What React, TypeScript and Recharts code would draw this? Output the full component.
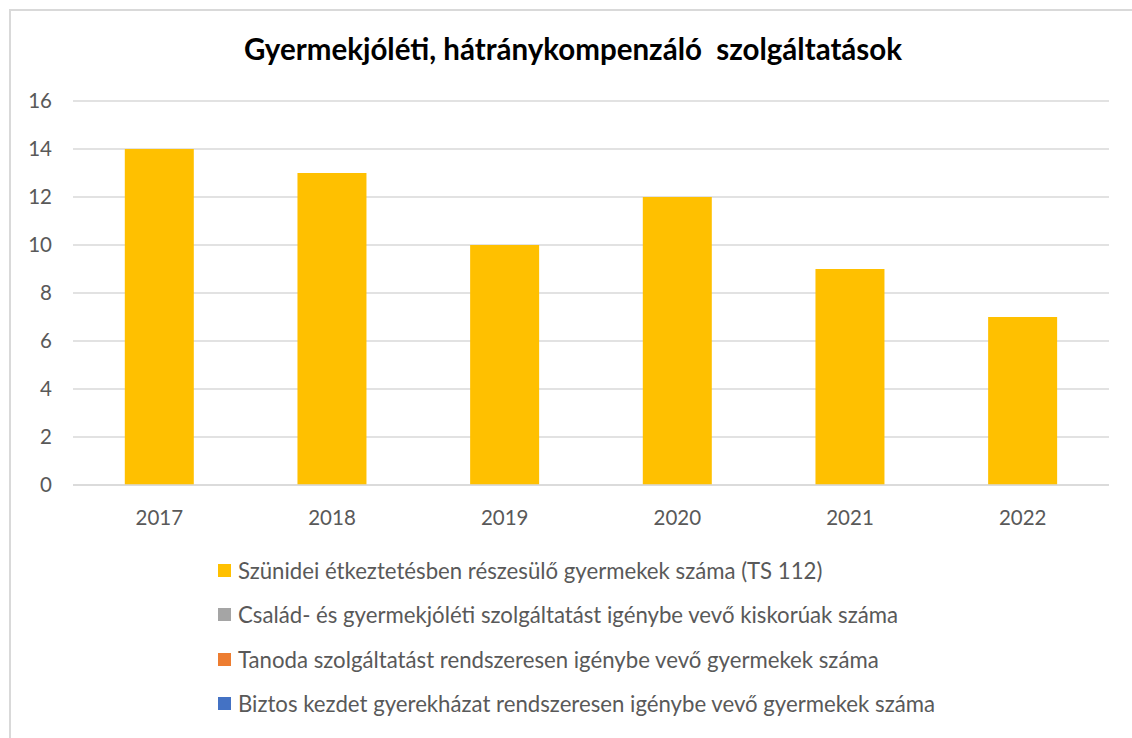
import React from "react"
import { BarChart, Bar, XAxis, YAxis, CartesianGrid } from "recharts"

// ── Data ──────────────────────────────────────────────────────────────────────
const years = ["2017", "2018", "2019", "2020", "2021", "2022"]
const szunidei = [14, 13, 10, 12, 9, 7]
const csaladSegito: (number | null)[] = [null, null, null, null, null, null]
const tanoda: (number | null)[] = [null, null, null, null, null, null]
const biztosKezdet: (number | null)[] = [null, null, null, null, null, null]
const yTicks = [0, 2, 4, 6, 8, 10, 12, 14, 16]

const seriesNames = [
  "Szünidei étkeztetésben részesülő gyermekek száma (TS 112)",
  "Család- és gyermekjóléti szolgáltatást igénybe vevő kiskorúak száma",
  "Tanoda szolgáltatást rendszeresen igénybe vevő gyermekek száma",
  "Biztos kezdet gyerekházat rendszeresen igénybe vevő gyermekek száma"
]
const seriesColors = ["#FFC000", "#A5A5A5", "#ED7D31", "#4472C4"]

const TEXT = "#595959"
const FONT = "Lato, 'Open Sans', sans-serif"

const rows = years.map((year, i) => ({
  year,
  s0: szunidei[i],
  s1: csaladSegito[i],
  s2: tanoda[i],
  s3: biztosKezdet[i]
}))

const tick = { fill: TEXT, fontSize: 20.5, fontFamily: FONT }

export default function App() {
  return (
    <div
      style={{
        position: "absolute",
        left: 0,
        top: 0,
        width: 1132,
        height: 738,
        overflow: "hidden",
        background: "#fff",
        fontFamily: FONT
      }}
    >
      {/* chart frame */}
      <div
        style={{
          position: "absolute",
          left: 9,
          top: 9,
          width: 1140,
          height: 740,
          border: "2px solid #D9D9D9",
          boxSizing: "border-box"
        }}
      />
      <div
        style={{
          position: "absolute",
          left: 0,
          width: 1146,
          top: 31,
          textAlign: "center",
          fontSize: 29.5,
          lineHeight: "36px",
          fontWeight: 700,
          color: "#000"
        }}
      >
        Gyermekjóléti, hátránykompenzáló&nbsp; szolgáltatások
      </div>

      <div style={{ position: "absolute", left: 0, top: 0 }}>
        <BarChart
          width={1132}
          height={560}
          data={rows}
          margin={{ top: 101, right: 23, left: 13, bottom: 25 }}
          barCategoryGap="30%"
        >
          <CartesianGrid vertical={false} stroke="#D9D9D9" strokeWidth={1.5} />
          <XAxis
            dataKey="year"
            axisLine={{ stroke: "#D9D9D9", strokeWidth: 1.5 }}
            tickLine={false}
            tick={tick}
            tickMargin={19}
            height={50}
          />
          <YAxis
            domain={[0, 16]}
            ticks={yTicks}
            axisLine={false}
            tickLine={false}
            tick={tick}
            tickMargin={15}
            width={60}
          />
          {["s0", "s1", "s2", "s3"].map((key, i) => (
            <Bar
              key={key}
              dataKey={key}
              name={seriesNames[i]}
              stackId="a"
              fill={seriesColors[i]}
              isAnimationActive={false}
            />
          ))}
        </BarChart>
      </div>

      {/* legend */}
      {seriesNames.map((name, i) => (
        <div
          key={name}
          style={{
            position: "absolute",
            left: 218,
            top: 570 + i * 44.5 - 15,
            height: 30,
            display: "flex",
            alignItems: "center",
            fontSize: 22.2,
            color: TEXT,
            whiteSpace: "nowrap"
          }}
        >
          <span
            style={{
              display: "inline-block",
              width: 13,
              height: 13,
              background: seriesColors[i],
              marginRight: 7
            }}
          />
          {name}
        </div>
      ))}
    </div>
  )
}
